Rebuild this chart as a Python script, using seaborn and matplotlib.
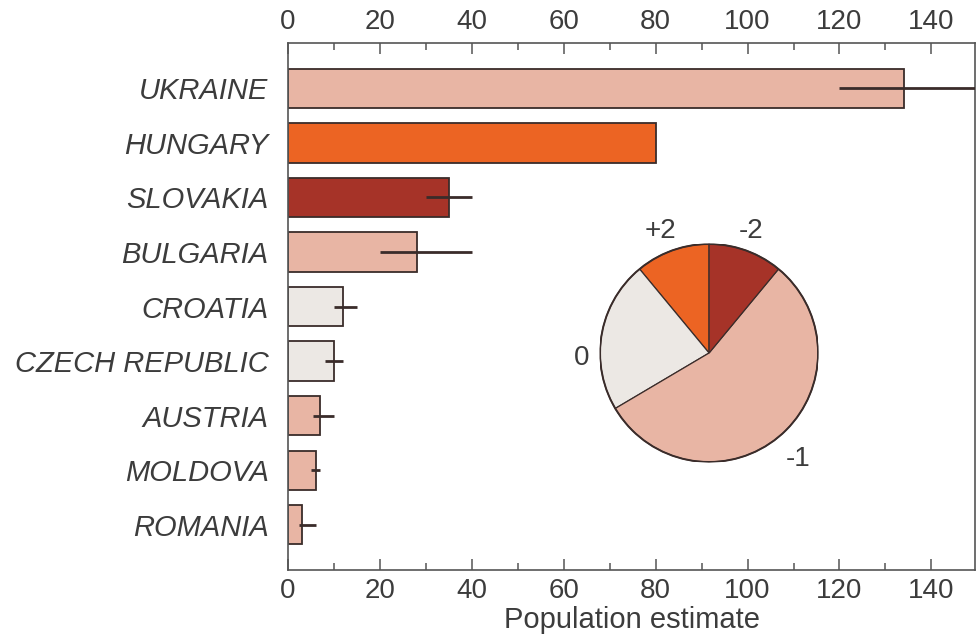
import matplotlib
matplotlib.use("Agg")
import matplotlib.pyplot as plt
from matplotlib.ticker import MultipleLocator
import pandas as pd
import seaborn as sns

# bar data (population estimate with ranges)
countries = ["UKRAINE", "HUNGARY", "SLOVAKIA", "BULGARIA", "CROATIA",
             "CZECH REPUBLIC", "AUSTRIA", "MOLDOVA", "ROMANIA"]
estimates = [134, 80, 35, 28, 12, 10, 7, 6, 3]
range_low = [120, 80, 30, 20, 10, 8, 5.5, 5, 2.3]
range_high = [152, 80, 40, 40, 15, 12, 10, 7, 6]
trend = ["-1", "+2", "-2", "-1", "0", "0", "-1", "-1", "-1"]

# pie data (share of countries per trend class)
pie_labels = ["+2", "0", "-1", "-2"]
pie_shares = [11, 22.5, 55.5, 11]

colors = {"-1": "#e8b5a4", "+2": "#ec6423", "-2": "#a63328", "0": "#ece8e4"}
text_col = "#3c3c3c"
edge_col = "#3a2c2a"

sns.set_style("white")
plt.rcParams["font.family"] = ["Liberation Sans", "DejaVu Sans"]

df = pd.DataFrame({"country": countries, "estimate": estimates, "trend": trend})

fig = plt.figure(figsize=(9.77, 6.43), dpi=100)
ax = fig.add_axes([0.2948, 0.1135, 0.7032, 0.8195])

sns.barplot(data=df, x="estimate", y="country", hue="trend", order=countries,
            palette=colors, saturation=1, dodge=False, width=0.72, legend=False,
            edgecolor=edge_col, linewidth=1.3, ax=ax)

err_lo = [e - l for e, l in zip(estimates, range_low)]
err_hi = [h - e for e, h in zip(estimates, range_high)]
ax.errorbar(estimates, range(len(countries)), xerr=[err_lo, err_hi],
            fmt="none", ecolor=edge_col, elinewidth=2, capsize=0, zorder=5)

ax.set_xlim(0, 149.5)
ax.set_ylim(8.83, -0.83)
ax.xaxis.set_major_locator(MultipleLocator(20))
ax.xaxis.set_minor_locator(MultipleLocator(10))
ax.tick_params(axis="x", which="both", direction="in", top=True, bottom=True,
               labeltop=True, labelbottom=True, colors="#555555",
               labelcolor=text_col, labelsize=20, width=1.1)
ax.tick_params(axis="x", which="major", length=8, pad=6)
ax.tick_params(axis="x", which="minor", length=5)
ax.tick_params(axis="y", length=0, pad=14, labelsize=21, labelcolor=text_col)
for lab in ax.get_yticklabels():
    lab.set_fontstyle("italic")
ax.set_ylabel("")
ax.set_xlabel("Population estimate", fontsize=21, color=text_col, labelpad=1)
for sp in ax.spines.values():
    sp.set_visible(True)
    sp.set_color("#555555")
    sp.set_linewidth(1.2)

# inset pie
pax = fig.add_axes([0.6142, 0.2815, 0.2231, 0.339])
wedges, _ = pax.pie(pie_shares, colors=[colors[k] for k in pie_labels],
                    startangle=90, counterclock=True, radius=1,
                    wedgeprops=dict(edgecolor=edge_col, linewidth=0.9))
outline = plt.Circle((0, 0), 1, fill=False, edgecolor=edge_col, linewidth=1.4)
pax.add_patch(outline)
label_pos = {"+2": (-0.45, 1.12), "-2": (0.39, 1.12),
             "0": (-1.17, -0.05), "-1": (0.82, -0.97)}
for k in pie_labels:
    x, y = label_pos[k]
    pax.text(x, y, k, ha="center", va="center", fontsize=20, color=text_col)
pax.set_xlim(-1, 1)
pax.set_ylim(-1, 1)
pax.set_aspect("equal")
pax.axis("off")

fig.savefig("out.png", dpi=100)
